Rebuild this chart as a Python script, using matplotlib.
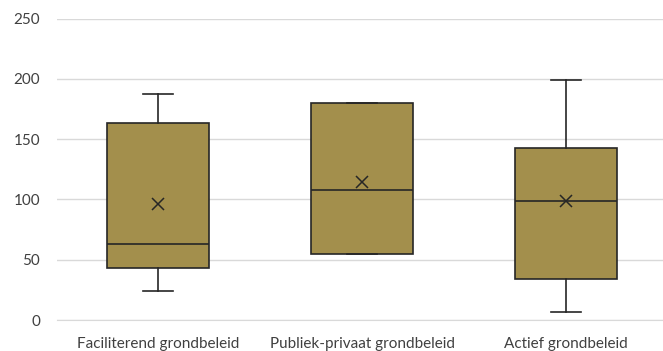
import matplotlib.pyplot as plt

categories = ["Faciliterend grondbeleid", "Publiek-privaat grondbeleid", "Actief grondbeleid"]
whisker_low = [24, 55, 7]
q1 = [43, 55, 34]
medians = [63, 108, 98.5]
q3 = [163, 180, 142.5]
whisker_high = [187, 180, 199]
means = [96, 114.5, 98.5]

box_color = "#A38F4C"
text_color = "#404040"

plt.rcParams["font.family"] = ["Lato", "DejaVu Sans"]

stats = []
for i, name in enumerate(categories):
    stats.append({
        "label": name,
        "whislo": whisker_low[i],
        "q1": q1[i],
        "med": medians[i],
        "q3": q3[i],
        "whishi": whisker_high[i],
        "mean": means[i],
    })

fig = plt.figure(figsize=(6.63, 3.51), dpi=100)
ax = fig.add_axes([57 / 663, 31 / 351, 606 / 663, 301.5 / 351])

ax.bxp(
    stats,
    positions=[0, 1, 2],
    widths=0.5,
    patch_artist=True,
    showmeans=True,
    showfliers=False,
    boxprops=dict(facecolor=box_color, edgecolor="#262626", linewidth=1.2),
    medianprops=dict(color="#262626", linewidth=1.2),
    whiskerprops=dict(color="#262626", linewidth=1.2),
    capprops=dict(color="#262626", linewidth=1.2),
    capwidths=0.15,
    meanprops=dict(marker="x", markeredgecolor="#262626", markersize=8, markeredgewidth=1.1),
)

ax.set_xlim(-0.495, 2.475)
ax.set_ylim(0, 250)
ax.set_yticks(range(0, 251, 50))
ax.yaxis.grid(True, color="#D9D9D9", linewidth=1)
ax.set_axisbelow(True)
for side in ["top", "right", "left"]:
    ax.spines[side].set_visible(False)
ax.spines["bottom"].set_color("#D9D9D9")
ax.tick_params(axis="both", length=0, colors=text_color, labelsize=11)
ax.tick_params(axis="x", pad=12)
ax.tick_params(axis="y", pad=12)
ax.set_xticks([0, 1, 2])
ax.set_xticklabels(categories)

fig.savefig("out.png", dpi=100)
